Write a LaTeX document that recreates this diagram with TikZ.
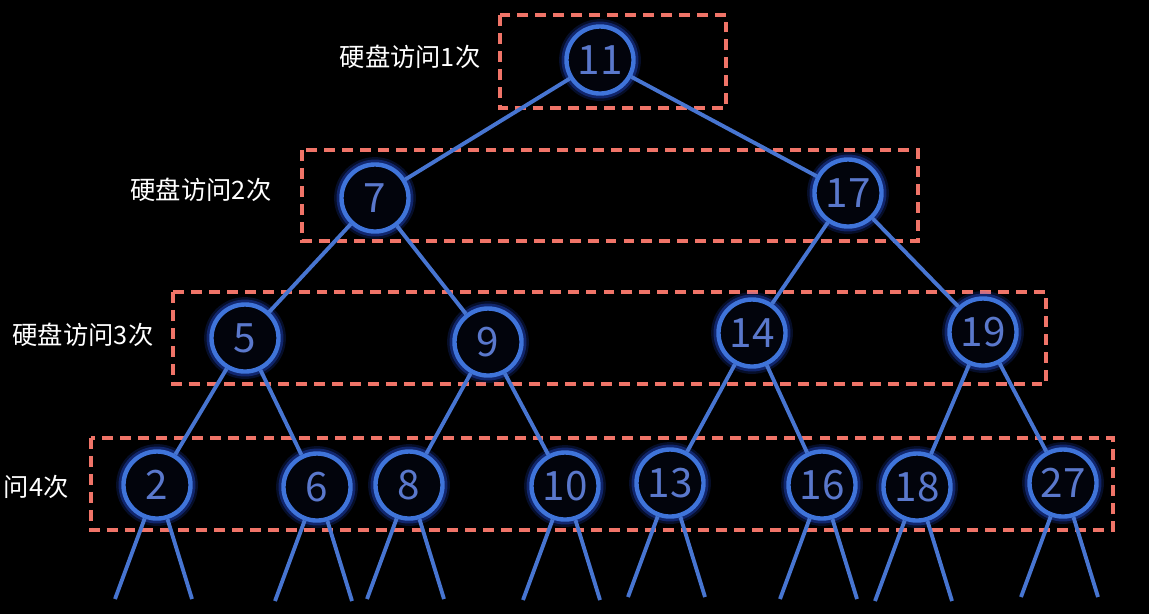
\documentclass[tikz,border=0pt]{standalone}
\usepackage{fontspec}
\setmainfont{Noto Sans CJK SC}
\usetikzlibrary{positioning}

\definecolor{ringblue}{HTML}{3F74DA}
\definecolor{glowblue}{HTML}{2A5BFF}
\definecolor{corefill}{HTML}{02040C}
\definecolor{digitblue}{HTML}{5A78CC}
\definecolor{linkblue}{HTML}{4775D1}
\definecolor{boxred}{HTML}{F07468}

\begin{document}
\begin{tikzpicture}[
    x=0.01cm, y=-0.01cm,
    bnode/.style = {circle, draw=ringblue, line width=1.25pt, fill=corefill,
      minimum size=0.67cm, inner sep=0pt, text=digitblue,
      font=\fontsize{11.5}{12}\selectfont,
      preaction={draw=glowblue, line width=4.2pt, opacity=0.16},
      preaction={draw=glowblue, line width=2.8pt, opacity=0.32}},
    link/.style = {draw=linkblue, line width=1.1pt},
    diskbox/.style = {draw=boxred, line width=1pt, dash pattern=on 3.1pt off 2pt},
    hint/.style = {text=white, inner sep=0pt, font=\fontsize{7.2}{8}\selectfont}
  ]

  % background and frame
  \fill[black] (0,0) rectangle (1149,614);
  \useasboundingbox (0,0) rectangle (1149,614);

  % one dashed box per disk access
  \draw[diskbox] (500,15) rectangle (726,108);
  \draw[diskbox] (302,150) rectangle (918,241);
  \draw[diskbox] (173,292) rectangle (1046,384);
  \draw[diskbox] (91,438) rectangle (1113,530);

  % labels left of the boxes
  \node[hint] (lab1) at (410,57) {硬盘访问1次};
  \node[hint] (lab2) at (201,190) {硬盘访问2次};
  \node[hint] (lab3) at (83,335) {硬盘访问3次};
  \node[hint, anchor=west] (lab4) at (3,487) {问4次};

  % tree nodes
  \foreach \name/\x/\y in {11/600/60, 7/375/198, 17/848/193,
      5/245/338, 9/488/342, 14/752/333, 19/983/332,
      2/157/485, 6/317/487, 8/409/485, 10/565/486,
      13/670/483, 16/822/485, 18/917/487, 27/1063/483}
    \node[bnode] (n\name) at (\x,\y) {\name};

  % parent to child
  \foreach \a/\b in {11/7, 11/17, 7/5, 7/9, 17/14, 17/19,
      5/2, 5/6, 9/8, 9/10, 14/13, 14/16, 19/18, 19/27}
    \draw[link] (n\a) -- (n\b);

  % open subtrees below the last row
  \foreach \name in {2,6,8,10,13,16,18,27} {
    \path (n\name) ++(-42,114) coordinate (l\name) ++(77,0) coordinate (r\name);
    \draw[link] (n\name) -- (l\name);
    \draw[link] (n\name) -- (r\name);
  }

\end{tikzpicture}
\end{document}
